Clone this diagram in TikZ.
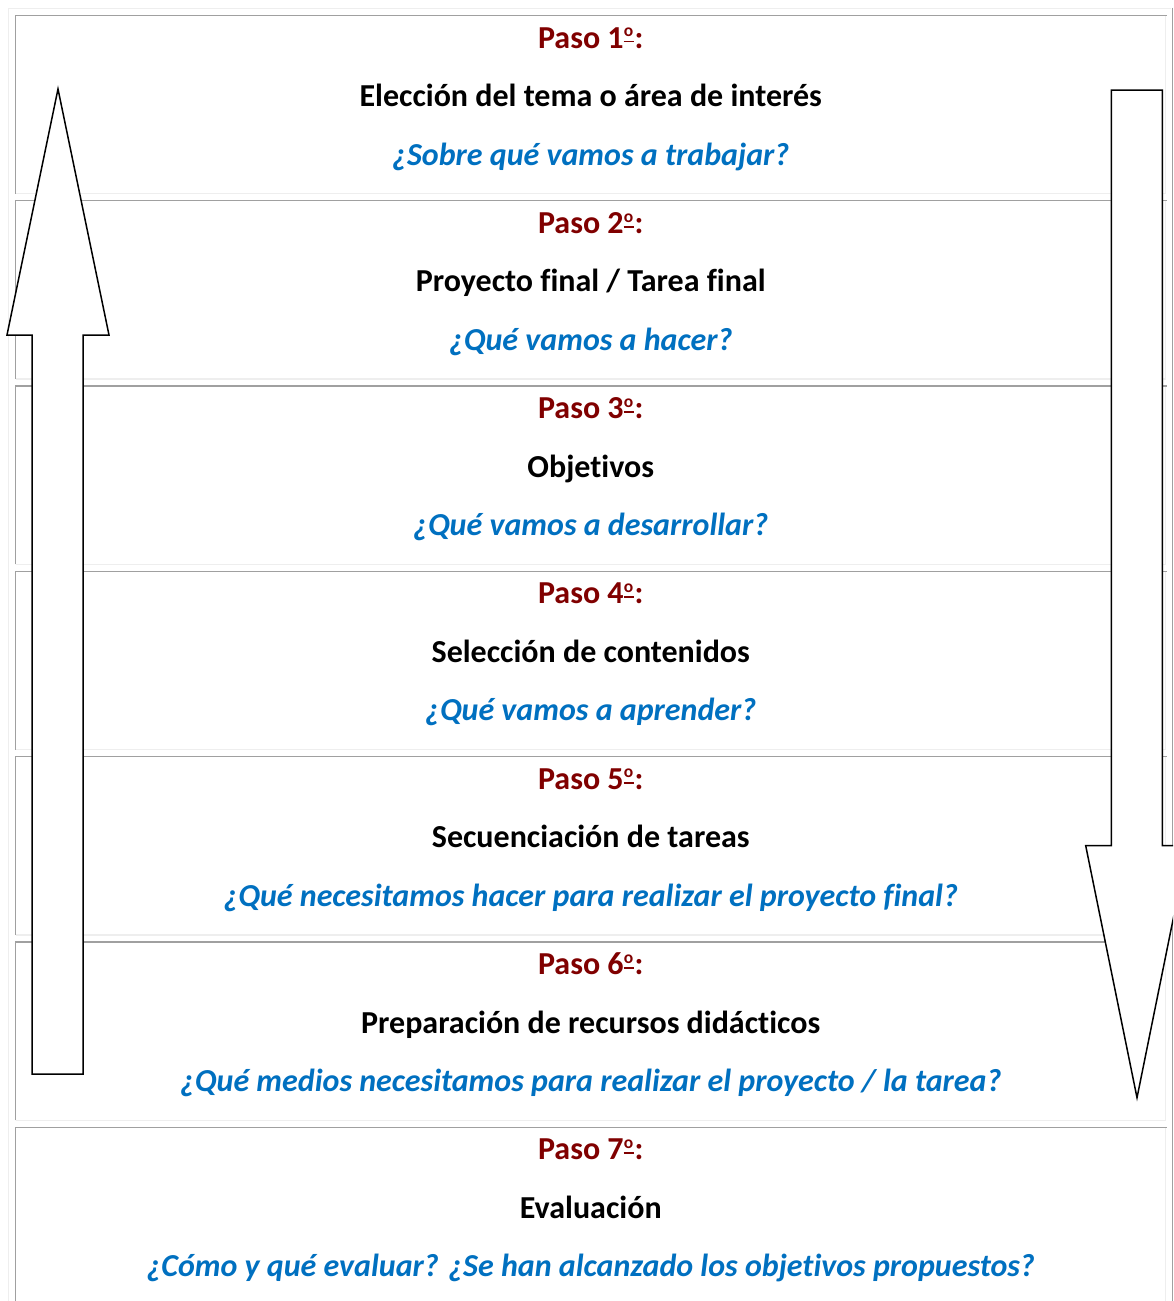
\documentclass[tikz,border=0pt]{standalone}
\usepackage{fontspec}
\setmainfont{Carlito}[Ligatures=NoCommon]
\definecolor{pasorojo}{RGB}{128,0,0}
\definecolor{preguntaazul}{RGB}{0,112,192}
\definecolor{bordeoscuro}{RGB}{160,160,160}
\definecolor{bordeclaro}{RGB}{238,238,238}
% ordinal subrayado
\newcommand{\ordo}{\makebox[10pt][c]{\raisebox{11.3pt}{\fontsize{17.5}{17.5}\selectfont o}}\kern-10pt\rule[5.6pt]{10pt}{1.9pt}\kern1pt}
\tikzset{
  oscuro/.style={draw=bordeoscuro, line width=1.3},
  claro/.style={draw=bordeclaro, line width=1.3},
  flecha/.style={draw=black, fill=white, line width=1.5},
  paso/.style={anchor=base, inner sep=0, text=pasorojo, font=\fontsize{32}{36}\selectfont\bfseries},
  titulo/.style={anchor=base, inner sep=0, text=black, font=\fontsize{32}{36}\selectfont\bfseries},
  pregunta/.style={anchor=base, inner sep=0, text=preguntaazul, font=\fontsize{32}{36}\selectfont\bfseries\itshape}
}
\begin{document}
\begin{tikzpicture}[x=1pt,y=-1pt]
  % Marco
  \useasboundingbox (0,0) rectangle (1173,1301);
  \clip (0,0) rectangle (1173,1301);
  \fill[white] (0,0) rectangle (1173,1301);
  % Tabla
  \draw[claro] (8.5,1301) -- (8.5,8.5) -- (1171,8.5);
  \draw[oscuro] (1172.3,7.5) -- (1172.3,1301);
  % Celdas
  \foreach \i in {0,...,6}{
    \pgfmathsetmacro{\ty}{15.5+185.3*\i}
    \draw[claro] (15.5,\ty+178.3) -- (1165.7,\ty+178.3) -- (1165.7,\ty);
    \draw[oscuro] (15.5,\ty+178.3) -- (15.5,\ty) -- (1166.5,\ty);
  }
  % Paso 1
  \node[paso] (paso1) at (590.75,48) {Paso 1\ordo:};
  \node[titulo] (tema1) at (590.75,106.5) {Elección del tema o área de interés};
  \node[pregunta] (preg1) at (590.75,165) {¿Sobre qué vamos a trabajar?};
  % Paso 2
  \node[paso] (paso2) at (590.75,233.3) {Paso 2\ordo:};
  \node[titulo] (tema2) at (590.75,291.8) {Proyecto final / Tarea final};
  \node[pregunta] (preg2) at (590.75,350.3) {¿Qué vamos a hacer?};
  % Paso 3
  \node[paso] (paso3) at (590.75,418.6) {Paso 3\ordo:};
  \node[titulo] (tema3) at (590.75,477.1) {Objetivos};
  \node[pregunta] (preg3) at (590.75,535.6) {¿Qué vamos a desarrollar?};
  % Paso 4
  \node[paso] (paso4) at (590.75,603.9) {Paso 4\ordo:};
  \node[titulo] (tema4) at (590.75,662.4) {Selección de contenidos};
  \node[pregunta] (preg4) at (590.75,720.9) {¿Qué vamos a aprender?};
  % Paso 5
  \node[paso] (paso5) at (590.75,789.2) {Paso 5\ordo:};
  \node[titulo] (tema5) at (590.75,847.7) {Secuenciación de tareas};
  \node[pregunta] (preg5) at (590.75,906.2) {¿Qué necesitamos hacer para realizar el proyecto final?};
  % Paso 6
  \node[paso] (paso6) at (590.75,974.5) {Paso 6\ordo:};
  \node[titulo] (tema6) at (590.75,1033) {Preparación de recursos didácticos};
  \node[pregunta] (preg6) at (590.75,1091.5) {¿Qué medios necesitamos para realizar el proyecto / la tarea?};
  % Paso 7
  \node[paso] (paso7) at (590.75,1159.8) {Paso 7\ordo:};
  \node[titulo] (tema7) at (590.75,1218.3) {Evaluación};
  \node[pregunta] (preg7) at (590.75,1276.8) {¿Cómo y qué evaluar? ¿Se han alcanzado los objetivos propuestos?};
  % Flecha hacia arriba
  \draw[flecha] (58,89) -- (109,335) -- (83,335) -- (83,1074) -- (32,1074) -- (32,335) -- (7,335) -- cycle;
  % Flecha hacia abajo
  \draw[flecha] (1111.3,90) -- (1162.3,90) -- (1162.3,845.7) -- (1188,845.7) -- (1137,1097.7) -- (1085.7,845.7) -- (1111.3,845.7) -- cycle;
\end{tikzpicture}
\end{document}
